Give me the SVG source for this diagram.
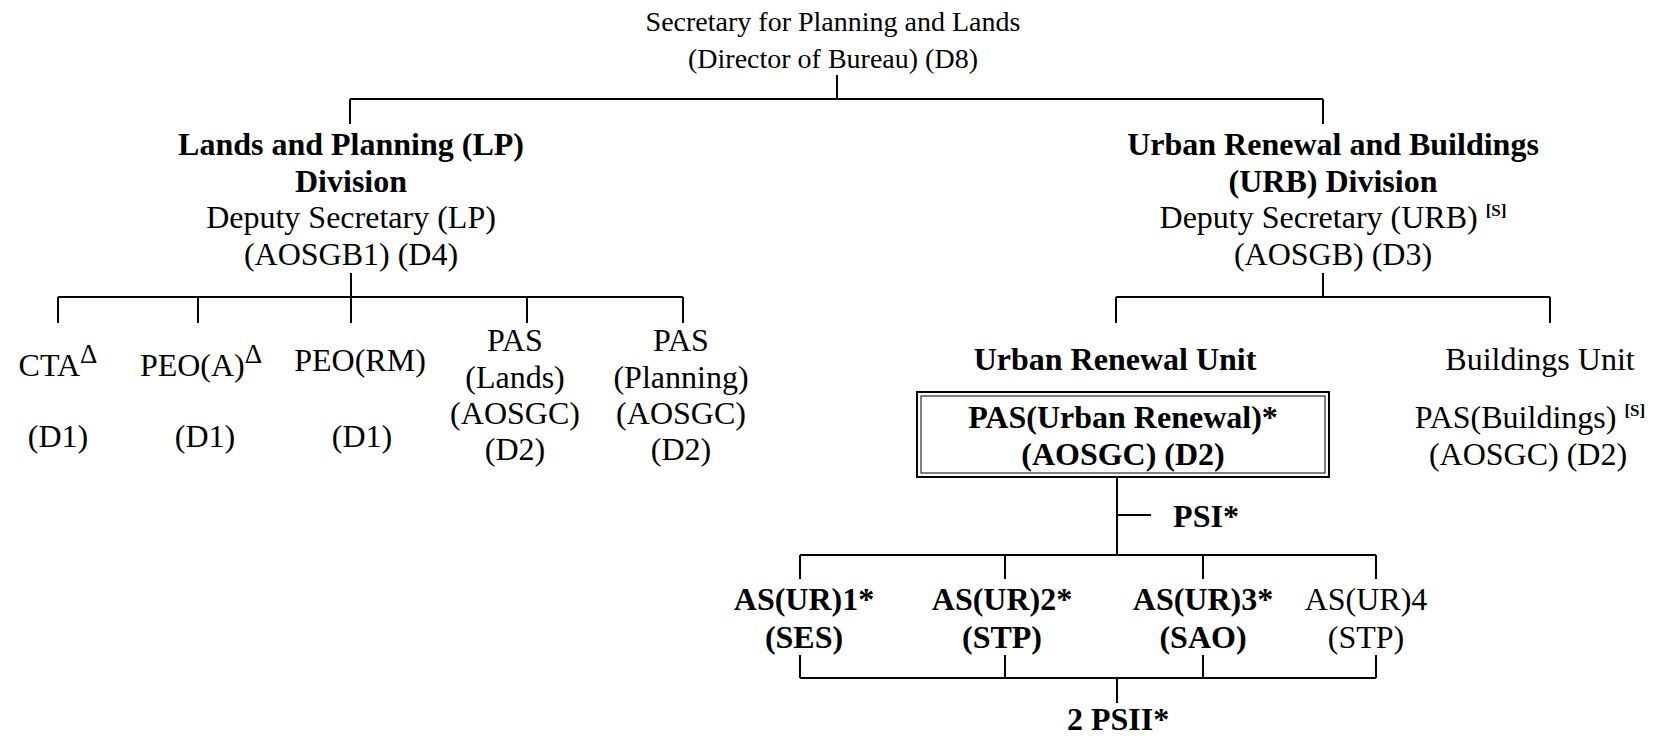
<svg xmlns="http://www.w3.org/2000/svg" width="1662" height="739" viewBox="0 0 1662 739">
  <style>
    text { font-family: "Liberation Serif", "Times New Roman", serif; font-size: 32px; fill: #000; text-anchor: middle; }
    .b { font-weight: bold; }
    .title { font-size: 28px; }
    .sup { font-size: 27px; }
    .sups { font-size: 17px; font-weight: bold; }
    .ln { stroke: #000; stroke-width: 2; fill: none; }
  </style>

  <!-- connectors -->
  <g id="connectors" class="ln">
    <!-- bureau head to divisions -->
    <path d="M837 75V99M350 99H1323M350 99V124M1323 99V124"/>
    <!-- LP division to its posts -->
    <path d="M351 273V297M58 297H683M58 297V323M198 297V323M351 297V323M527 297V323M683 297V323"/>
    <!-- URB division to units -->
    <path d="M1323 273V297M1116 297H1550M1116 297V323M1550 297V323"/>
    <!-- PAS(UR) down to the AS(UR) posts -->
    <path d="M1117 477V555M1117 515H1151M800 555H1376M800 555V579M1005 555V579M1203 555V579M1376 555V579"/>
    <!-- AS(UR) posts to the PSII pool -->
    <path d="M800 655V678M1005 655V678M1203 655V678M1376 655V678M800 678H1376M1117 678V703"/>
  </g>

  <g id="sec-pl">
    <text class="title" x="833" y="31">Secretary for Planning and Lands</text>
    <text class="title" x="833" y="68">(Director of Bureau) (D8)</text>
  </g>

  <g id="lp-division">
    <text class="b" x="351" y="155">Lands and Planning (LP)</text>
    <text class="b" x="351" y="192">Division</text>
    <text x="351" y="228">Deputy Secretary (LP)</text>
    <text x="351" y="265">(AOSGB1) (D4)</text>
  </g>

  <g id="urb-division">
    <text class="b" x="1333" y="155">Urban Renewal and Buildings</text>
    <text class="b" x="1333" y="192">(URB) Division</text>
    <text x="1333" y="228">Deputy Secretary (URB) <tspan class="sups" dy="-12">[S]</tspan></text>
    <text x="1333" y="265">(AOSGB) (D3)</text>
  </g>

  <g id="cta">
    <text x="58" y="376">CTA<tspan class="sup" dy="-13">Δ</tspan></text>
    <text x="58" y="447">(D1)</text>
  </g>

  <g id="peo-a">
    <text x="201" y="376">PEO(A)<tspan class="sup" dy="-13">Δ</tspan></text>
    <text x="205" y="447">(D1)</text>
  </g>

  <g id="peo-rm">
    <text x="360" y="371">PEO(RM)</text>
    <text x="362" y="447">(D1)</text>
  </g>

  <g id="pas-lands">
    <text x="515" y="351">PAS</text>
    <text x="515" y="388">(Lands)</text>
    <text x="515" y="424">(AOSGC)</text>
    <text x="515" y="460">(D2)</text>
  </g>

  <g id="pas-planning">
    <text x="681" y="351">PAS</text>
    <text x="681" y="388">(Planning)</text>
    <text x="681" y="424">(AOSGC)</text>
    <text x="681" y="460">(D2)</text>
  </g>

  <g id="ur-unit">
    <text class="b" x="1115" y="370">Urban Renewal Unit</text>
  </g>

  <g id="pas-ur">
    <rect x="917" y="392" width="412" height="85" class="ln"/>
    <rect x="921" y="396" width="404" height="77" fill="none" stroke="#000" stroke-width="1"/>
    <text class="b" x="1123" y="428">PAS(Urban Renewal)*</text>
    <text class="b" x="1123" y="465">(AOSGC) (D2)</text>
  </g>

  <g id="psi">
    <text class="b" x="1206" y="527">PSI*</text>
  </g>

  <g id="b-unit">
    <text x="1540" y="370">Buildings Unit</text>
  </g>

  <g id="pas-b">
    <text x="1530" y="428">PAS(Buildings) <tspan class="sups" dy="-12">[S]</tspan></text>
    <text x="1528" y="465">(AOSGC) (D2)</text>
  </g>

  <g id="as-ur1">
    <text class="b" x="804" y="610">AS(UR)1*</text>
    <text class="b" x="804" y="648">(SES)</text>
  </g>

  <g id="as-ur2">
    <text class="b" x="1002" y="610">AS(UR)2*</text>
    <text class="b" x="1002" y="648">(STP)</text>
  </g>

  <g id="as-ur3">
    <text class="b" x="1203" y="610">AS(UR)3*</text>
    <text class="b" x="1203" y="648">(SAO)</text>
  </g>

  <g id="as-ur4">
    <text x="1366" y="610">AS(UR)4</text>
    <text x="1366" y="648">(STP)</text>
  </g>

  <g id="psii">
    <text class="b" x="1118" y="730">2 PSII*</text>
  </g>
</svg>
